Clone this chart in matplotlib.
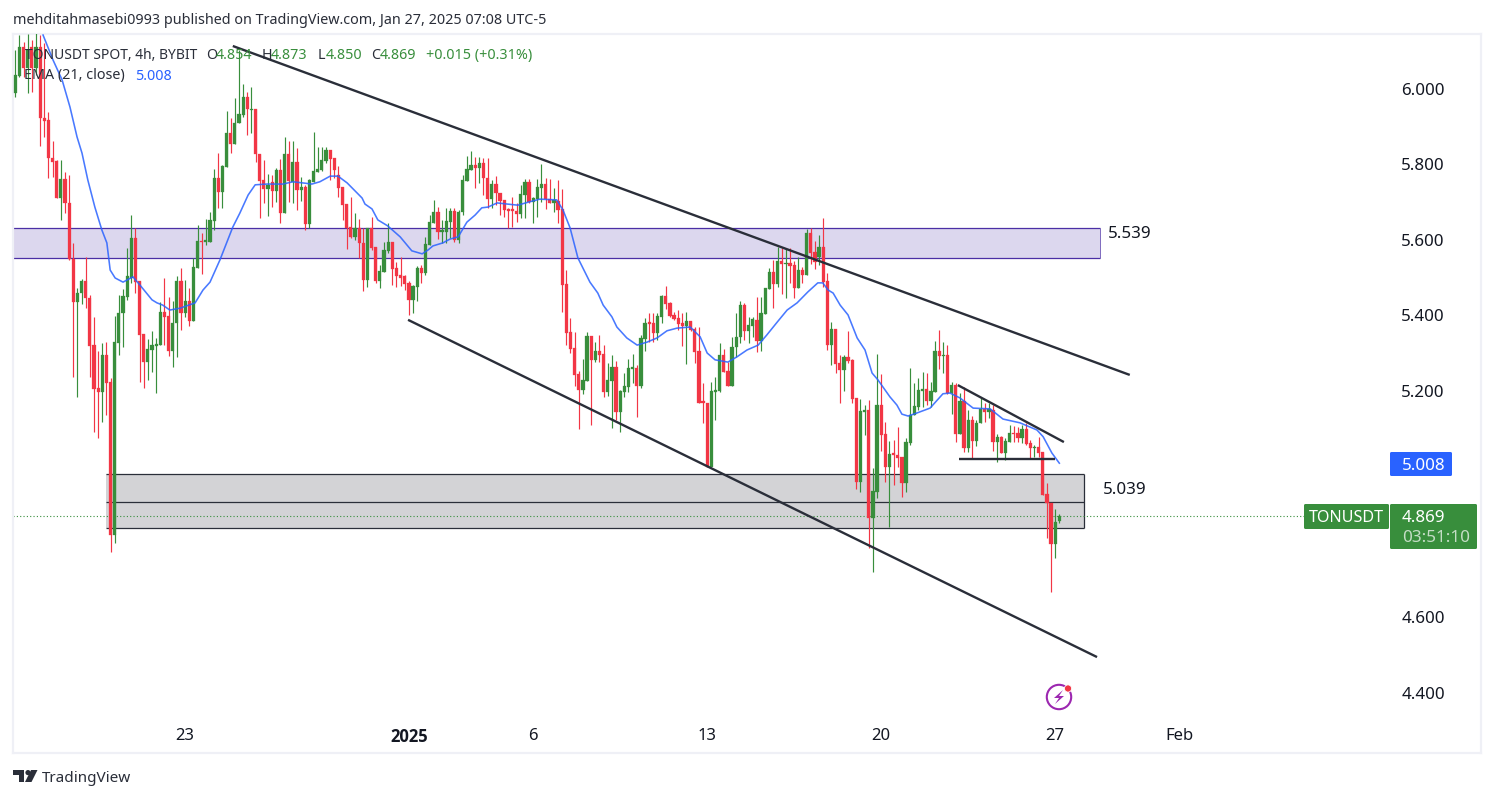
import numpy as np
import matplotlib
matplotlib.use("Agg")
import matplotlib.pyplot as plt
from matplotlib.patches import Rectangle, Circle, Polygon, FancyBboxPatch

plt.rcParams["font.family"] = ["Noto Sans", "DejaVu Sans"]

# 4h candles, one per bar index
opens = [
    5.989, 6.034, 6.111, 6.056, 6.111, 6.056, 6.111, 5.923, 5.918, 5.817,
    5.809, 5.711, 5.761, 5.698, 5.549, 5.435, 5.459, 5.491, 5.446, 5.321,
    5.207, 5.197, 5.295, 5.223, 4.818, 5.327, 5.406, 5.449, 5.499, 5.605,
    5.491, 5.351, 5.276, 5.308, 5.319, 5.321, 5.409, 5.398, 5.306, 5.380,
    5.491, 5.406, 5.438, 5.385, 5.526, 5.597, 5.594, 5.594, 5.650, 5.764,
    5.727, 5.793, 5.883, 5.854, 5.910, 5.931, 5.979, 5.944, 5.947, 5.828,
    5.759, 5.735, 5.754, 5.730, 5.785, 5.671, 5.828, 5.754, 5.807, 5.732,
    5.740, 5.642, 5.754, 5.780, 5.785, 5.809, 5.838, 5.817, 5.772, 5.740,
    5.695, 5.634, 5.608, 5.632, 5.592, 5.494, 5.632, 5.581, 5.491, 5.515,
    5.571, 5.594, 5.526, 5.507, 5.504, 5.486, 5.441, 5.475, 5.526, 5.512,
    5.587, 5.645, 5.674, 5.621, 5.621, 5.647, 5.677, 5.600, 5.674, 5.756,
    5.785, 5.799, 5.791, 5.804, 5.764, 5.708, 5.748, 5.724, 5.706, 5.682,
    5.682, 5.677, 5.669, 5.719, 5.754, 5.700, 5.708, 5.738, 5.748, 5.708,
    5.698, 5.703, 5.682, 5.483, 5.356, 5.313, 5.245, 5.202, 5.226, 5.345,
    5.282, 5.305, 5.298, 5.197, 5.226, 5.263, 5.144, 5.197, 5.210, 5.258,
    5.260, 5.213, 5.337, 5.380, 5.380, 5.353, 5.396, 5.451, 5.433, 5.401,
    5.393, 5.380, 5.372, 5.385, 5.364, 5.305, 5.170, 5.168, 4.998, 5.197,
    5.200, 5.295, 5.253, 5.213, 5.316, 5.343, 5.427, 5.359, 5.372, 5.388,
    5.332, 5.404, 5.470, 5.515, 5.483, 5.544, 5.536, 5.539, 5.534, 5.472,
    5.520, 5.507, 5.618, 5.568, 5.555, 5.581, 5.491, 5.321, 5.364, 5.274,
    5.255, 5.290, 5.282, 5.181, 4.958, 5.144, 5.149, 4.863, 4.932, 5.162,
    5.085, 4.998, 5.032, 5.030, 5.024, 4.956, 5.062, 5.136, 5.157, 5.200,
    5.205, 5.173, 5.197, 5.305, 5.292, 5.295, 5.194, 5.215, 5.085, 5.173,
    5.048, 5.123, 5.067, 5.115, 5.152, 5.144, 5.149, 5.064, 5.078, 5.035,
    5.064, 5.088, 5.088, 5.075, 5.099, 5.062, 5.048, 5.051, 5.038, 4.926,
    4.903, 4.794, 4.854,
]
highs = [
    6.103, 6.143, 6.125, 6.146, 6.130, 6.149, 6.143, 6.122, 5.939, 5.862,
    5.812, 5.812, 5.780, 5.772, 5.592, 5.472, 5.496, 5.555, 5.454, 5.396,
    5.305, 5.327, 5.329, 5.234, 5.398, 5.454, 5.470, 5.579, 5.666, 5.632,
    5.491, 5.351, 5.337, 5.359, 5.340, 5.435, 5.499, 5.449, 5.438, 5.504,
    5.526, 5.494, 5.472, 5.552, 5.640, 5.618, 5.655, 5.674, 5.788, 5.830,
    5.799, 5.942, 5.923, 5.976, 6.103, 6.013, 5.992, 6.005, 5.947, 5.828,
    5.812, 5.775, 5.772, 5.791, 5.815, 5.873, 5.862, 5.862, 5.844, 5.767,
    5.746, 5.761, 5.886, 5.846, 5.846, 5.846, 5.838, 5.817, 5.796, 5.740,
    5.695, 5.714, 5.671, 5.655, 5.632, 5.632, 5.661, 5.581, 5.534, 5.594,
    5.645, 5.594, 5.541, 5.555, 5.507, 5.491, 5.480, 5.531, 5.534, 5.608,
    5.666, 5.706, 5.687, 5.653, 5.685, 5.685, 5.685, 5.679, 5.772, 5.822,
    5.836, 5.820, 5.820, 5.817, 5.817, 5.759, 5.769, 5.724, 5.706, 5.685,
    5.714, 5.698, 5.746, 5.761, 5.761, 5.714, 5.761, 5.801, 5.764, 5.761,
    5.738, 5.759, 5.735, 5.520, 5.393, 5.356, 5.253, 5.284, 5.356, 5.345,
    5.329, 5.348, 5.321, 5.274, 5.295, 5.279, 5.202, 5.247, 5.284, 5.298,
    5.268, 5.348, 5.393, 5.406, 5.406, 5.406, 5.454, 5.478, 5.435, 5.409,
    5.414, 5.406, 5.409, 5.385, 5.369, 5.369, 5.221, 5.168, 5.223, 5.237,
    5.327, 5.311, 5.276, 5.343, 5.406, 5.438, 5.433, 5.396, 5.396, 5.449,
    5.449, 5.472, 5.526, 5.547, 5.581, 5.579, 5.579, 5.579, 5.544, 5.555,
    5.528, 5.629, 5.632, 5.597, 5.613, 5.658, 5.512, 5.382, 5.364, 5.295,
    5.295, 5.359, 5.284, 5.181, 5.178, 5.162, 5.176, 4.995, 5.297, 5.245,
    5.117, 5.067, 5.070, 5.104, 5.024, 5.075, 5.260, 5.221, 5.234, 5.250,
    5.247, 5.223, 5.332, 5.361, 5.329, 5.321, 5.223, 5.221, 5.194, 5.210,
    5.149, 5.133, 5.123, 5.184, 5.168, 5.168, 5.162, 5.085, 5.080, 5.075,
    5.109, 5.107, 5.104, 5.109, 5.115, 5.070, 5.056, 5.078, 5.038, 4.956,
    4.903, 4.887, 4.873,
]
lows = [
    5.979, 6.032, 6.032, 5.989, 5.992, 6.037, 5.849, 5.873, 5.764, 5.767,
    5.711, 5.653, 5.671, 5.547, 5.237, 5.184, 5.430, 5.419, 5.237, 5.091,
    5.075, 5.117, 5.136, 4.773, 4.796, 5.295, 5.316, 5.441, 5.486, 5.459,
    5.223, 5.207, 5.229, 5.250, 5.194, 5.321, 5.321, 5.292, 5.263, 5.290,
    5.361, 5.396, 5.372, 5.385, 5.526, 5.510, 5.587, 5.594, 5.626, 5.685,
    5.685, 5.793, 5.830, 5.854, 5.910, 5.926, 5.878, 5.883, 5.807, 5.658,
    5.698, 5.663, 5.687, 5.700, 5.645, 5.671, 5.700, 5.698, 5.679, 5.703,
    5.626, 5.632, 5.754, 5.780, 5.783, 5.804, 5.759, 5.764, 5.714, 5.653,
    5.576, 5.605, 5.600, 5.552, 5.465, 5.475, 5.573, 5.486, 5.472, 5.515,
    5.565, 5.480, 5.475, 5.478, 5.467, 5.401, 5.406, 5.438, 5.486, 5.507,
    5.587, 5.645, 5.602, 5.592, 5.592, 5.605, 5.594, 5.592, 5.666, 5.756,
    5.785, 5.738, 5.751, 5.719, 5.685, 5.685, 5.692, 5.666, 5.661, 5.632,
    5.634, 5.647, 5.658, 5.658, 5.698, 5.645, 5.661, 5.700, 5.682, 5.698,
    5.674, 5.645, 5.409, 5.321, 5.300, 5.213, 5.099, 5.192, 5.226, 5.109,
    5.276, 5.276, 5.184, 5.186, 5.101, 5.123, 5.091, 5.184, 5.197, 5.221,
    5.131, 5.207, 5.305, 5.329, 5.329, 5.335, 5.380, 5.417, 5.396, 5.388,
    5.361, 5.319, 5.271, 5.359, 5.274, 5.168, 5.115, 4.998, 4.998, 5.123,
    5.197, 5.250, 5.213, 5.213, 5.290, 5.327, 5.335, 5.327, 5.343, 5.303,
    5.305, 5.404, 5.470, 5.419, 5.475, 5.457, 5.446, 5.486, 5.446, 5.472,
    5.486, 5.507, 5.536, 5.523, 5.534, 5.475, 5.308, 5.268, 5.247, 5.168,
    5.200, 5.274, 5.168, 4.940, 4.932, 5.083, 4.783, 4.720, 4.916, 5.040,
    4.958, 4.839, 4.950, 4.998, 4.918, 4.932, 5.056, 5.136, 5.149, 5.157,
    5.162, 5.157, 5.197, 5.258, 5.247, 5.192, 5.138, 5.064, 5.085, 5.038,
    5.038, 5.019, 5.054, 5.115, 5.117, 5.128, 5.040, 5.011, 5.035, 5.017,
    5.064, 5.064, 5.064, 5.062, 5.056, 5.022, 5.025, 5.025, 4.924, 4.810,
    4.667, 4.757, 4.850,
]
closes = [
    6.037, 6.111, 6.056, 6.103, 6.056, 6.111, 5.923, 5.915, 5.817, 5.807,
    5.711, 5.761, 5.698, 5.549, 5.435, 5.459, 5.491, 5.446, 5.319, 5.205,
    5.197, 5.295, 5.221, 4.818, 5.329, 5.406, 5.451, 5.504, 5.605, 5.488,
    5.348, 5.276, 5.311, 5.321, 5.324, 5.409, 5.396, 5.306, 5.380, 5.491,
    5.406, 5.438, 5.385, 5.528, 5.597, 5.594, 5.600, 5.653, 5.764, 5.727,
    5.796, 5.883, 5.854, 5.910, 5.934, 5.979, 5.947, 5.947, 5.828, 5.756,
    5.735, 5.746, 5.730, 5.785, 5.671, 5.828, 5.756, 5.807, 5.732, 5.740,
    5.642, 5.759, 5.783, 5.788, 5.812, 5.838, 5.815, 5.785, 5.738, 5.692,
    5.632, 5.608, 5.632, 5.592, 5.494, 5.632, 5.579, 5.491, 5.518, 5.573,
    5.594, 5.523, 5.504, 5.499, 5.483, 5.441, 5.478, 5.526, 5.512, 5.589,
    5.647, 5.674, 5.621, 5.626, 5.650, 5.677, 5.600, 5.674, 5.759, 5.788,
    5.799, 5.791, 5.804, 5.764, 5.708, 5.748, 5.724, 5.703, 5.679, 5.677,
    5.677, 5.669, 5.722, 5.754, 5.700, 5.711, 5.740, 5.748, 5.708, 5.698,
    5.706, 5.679, 5.480, 5.353, 5.311, 5.242, 5.202, 5.229, 5.345, 5.282,
    5.305, 5.295, 5.197, 5.229, 5.263, 5.144, 5.200, 5.213, 5.260, 5.260,
    5.213, 5.340, 5.380, 5.377, 5.353, 5.398, 5.451, 5.430, 5.398, 5.390,
    5.377, 5.372, 5.385, 5.361, 5.303, 5.168, 5.168, 4.998, 5.200, 5.200,
    5.295, 5.250, 5.213, 5.316, 5.343, 5.427, 5.359, 5.374, 5.390, 5.332,
    5.406, 5.472, 5.515, 5.483, 5.544, 5.536, 5.539, 5.531, 5.472, 5.520,
    5.507, 5.618, 5.565, 5.541, 5.581, 5.488, 5.321, 5.364, 5.271, 5.255,
    5.290, 5.279, 5.178, 4.958, 5.146, 5.149, 4.863, 4.934, 5.162, 5.083,
    4.998, 5.032, 5.030, 5.022, 4.956, 5.064, 5.136, 5.160, 5.202, 5.205,
    5.173, 5.200, 5.305, 5.292, 5.295, 5.194, 5.215, 5.085, 5.173, 5.048,
    5.123, 5.067, 5.115, 5.152, 5.144, 5.152, 5.064, 5.078, 5.035, 5.067,
    5.088, 5.085, 5.075, 5.099, 5.059, 5.048, 5.051, 5.035, 4.924, 4.903,
    4.794, 4.852, 4.869,
]

# EMA(21)
ema_idx = [
    6.7, 9.1, 11.3, 13.2, 14.9, 16.1, 17.5, 19.2, 20.9, 22.1, 22.9, 24.1, 26.0, 28.4, 30.1,
    33.0, 34.2, 35.6, 37.3, 39.8, 43.4, 45.3, 47.0, 49.4, 52.5, 54.2, 56.2, 57.9, 60.8, 64.6,
    67.0, 69.4, 71.6, 73.5, 76.0, 77.9, 80.1, 83.7, 84.4, 86.1, 87.5, 89.9, 92.9, 95.7, 98.2,
    99.6, 100.8, 103.2, 104.9, 106.9, 109.0, 111.0, 112.6, 114.1, 116.3, 118.7, 121.3, 123.8, 126.6, 130.7,
    132.2, 133.9, 135.8, 138.7, 140.6, 141.9, 144.0, 145.2, 147.6, 150.1, 152.5, 154.9, 157.3, 159.7, 162.9,
    165.3, 167.0, 168.9, 172.0, 174.2, 176.6, 179.3, 181.4, 183.9, 186.3, 188.7, 191.3, 193.7, 194.9, 196.2,
    197.4, 199.1, 201.0, 203.2, 205.1, 206.8, 208.2, 211.1, 212.8, 214.0, 215.5, 217.6, 220.8, 223.9, 225.6,
    228.0, 231.2, 235.3, 238.4, 242.5, 246.6, 248.1, 250.2, 252.0,
]
ema_val = [
    6.143, 6.077, 6.024, 5.952, 5.873, 5.830, 5.759, 5.687, 5.626, 5.592, 5.520, 5.499, 5.488, 5.502, 5.480,
    5.441, 5.433, 5.427, 5.414, 5.419, 5.433, 5.467, 5.488, 5.547, 5.634, 5.671, 5.719, 5.746, 5.748, 5.748,
    5.754, 5.751, 5.748, 5.754, 5.769, 5.769, 5.751, 5.711, 5.695, 5.682, 5.653, 5.637, 5.608, 5.571, 5.563,
    5.573, 5.584, 5.592, 5.602, 5.608, 5.647, 5.666, 5.685, 5.687, 5.698, 5.695, 5.692, 5.700, 5.708, 5.706,
    5.679, 5.632, 5.552, 5.488, 5.459, 5.427, 5.396, 5.369, 5.340, 5.321, 5.329, 5.340, 5.359, 5.366, 5.369,
    5.343, 5.300, 5.282, 5.276, 5.290, 5.308, 5.321, 5.348, 5.382, 5.414, 5.433, 5.462, 5.486, 5.486, 5.467,
    5.459, 5.427, 5.401, 5.340, 5.308, 5.247, 5.229, 5.184, 5.162, 5.138, 5.133, 5.141, 5.154, 5.192, 5.194,
    5.181, 5.154, 5.152, 5.125, 5.115, 5.096, 5.078, 5.035, 5.008,
]

# drawn trend lines (bar index, price)
upper_x = [52.5, 269.0]
upper_y = [6.114, 5.242]
lower_x = [94.8, 261.1]
lower_y = [5.388, 4.494]
wedge_x = [227.5, 253.1]
wedge_y = [5.215, 5.064]
flat_x = [227.8, 251.0]
flat_y = [5.019, 5.019]

# zones
purple_x = [-0.6, 261.8]
purple_y = [5.552, 5.632]
grey_x = [21.9, 258.0]
grey_y = [4.835, 4.906, 4.978]

last_price = 4.869
price_ticks = [6.0, 5.8, 5.6, 5.4, 5.2, 4.6, 4.4]
date_ticks = [41, 95, 125, 167, 209, 251, 281]
date_labels = ["23", "2025", "6", "13", "20", "27", "Feb"]

GREEN = "#388e3c"
RED = "#f23645"
BLUE = "#2962ff"
DARK = "#2a2e39"
TEXT = "#131722"

W, H = 1494, 798
fig = plt.figure(figsize=(W / 100, H / 100), dpi=100, facecolor="white")

# price pane: 4.143 px per bar, 377.2 px per 1.0 of price
left, right, top, bottom = 12.5, 1481, 33.5, 753
ax = fig.add_axes([left / W, 1 - bottom / H, (right - left) / W, (bottom - top) / H])
ax.set_xlim((left - 15.3) / 4.143, (right - 15.3) / 4.143)
ax.set_ylim(6 - (bottom - 89) / 377.2, 6 - (top - 89) / 377.2)
for s in ax.spines.values():
    s.set_color("#eff0f6")
    s.set_linewidth(1.6)

# zones under the candles
ax.add_patch(Rectangle((purple_x[0], purple_y[0]), purple_x[1] - purple_x[0], purple_y[1] - purple_y[0],
                       facecolor="#dcd7ee", edgecolor="none", zorder=1))
ax.hlines(purple_y, purple_x[0], purple_x[1], color="#4b2fa5", lw=0.9, zorder=1.5)
ax.vlines(purple_x[1], purple_y[0], purple_y[1], color="#4b2fa5", lw=0.5, zorder=1.5)

ax.add_patch(Rectangle((grey_x[0], grey_y[0]), grey_x[1] - grey_x[0], grey_y[2] - grey_y[0],
                       facecolor="#d3d3d6", edgecolor="none", zorder=1))
ax.hlines(grey_y, grey_x[0], grey_x[1], color=DARK, lw=0.9, zorder=1.5)
ax.vlines(grey_x[1], grey_y[0], grey_y[2], color=DARK, lw=0.9, zorder=1.5)

# candles
idx = np.arange(len(closes))
o = np.array(opens)
c = np.array(closes)
colors = [GREEN if b >= a else RED for a, b in zip(o, c)]
ax.vlines(idx, lows, highs, color=colors, lw=0.85, zorder=3)
ax.bar(idx, np.maximum(np.abs(c - o), 0.004), bottom=np.minimum(o, c), width=0.78,
       color=colors, edgecolor=colors, linewidth=0.2, zorder=3)

ax.plot(ema_idx, ema_val, color=BLUE, lw=1.15, alpha=0.85, zorder=4)

for xs, ys in [(upper_x, upper_y), (lower_x, lower_y), (wedge_x, wedge_y), (flat_x, flat_y)]:
    ax.plot(xs, ys, color=DARK, lw=1.7, zorder=5, solid_capstyle="butt")

ax.hlines(last_price, ax.get_xlim()[0], (1304 - 15.3) / 4.143, color=GREEN, lw=0.8,
          linestyles=(0, (1, 2)), zorder=2.5)

# axis labels sit inside the pane, as on the chart
ax.yaxis.tick_right()
ax.set_yticks(price_ticks)
ax.set_yticklabels([f"{p:.3f}" for p in price_ticks], fontsize=12.2, color=TEXT)
ax.tick_params(axis="y", length=0, pad=-57.5)
for lab in ax.get_yticklabels():
    lab.set_horizontalalignment("left")
ax.set_xticks(date_ticks)
ax.set_xticklabels(date_labels, fontsize=12, color=TEXT)
year_label = ax.get_xticklabels()[1]
year_label.set_fontfamily(["Open Sans", "DejaVu Sans"])
year_label.set_fontweight("bold")
ax.tick_params(axis="x", length=0, pad=-18)

# overlay in pixel space for the header, legend, tags and logo
ov = fig.add_axes([0, 0, 1, 1], zorder=10)
ov.set_xlim(0, W)
ov.set_ylim(H, 0)
ov.axis("off")
ov.patch.set_alpha(0)


def put(x, y, s, size=10.5, color=TEXT, **kw):
    kw.setdefault("va", "center")
    ov.text(x, y, s, fontsize=size, color=color, **kw)


put(13, 20.5, "mehditahmasebi0993 published on TradingView.com, Jan 27, 2025 07:08 UTC-5", 10.35, "#2a2e39")

put(25, 55.5, "TONUSDT SPOT, 4h, BYBIT", 10, "#2a2e39")
legend_parts = [(206, "O", "#2a2e39"), (216, "4.854", GREEN), (262, "H", "#2a2e39"), (271, "4.873", GREEN),
                (318, "L", "#2a2e39"), (326, "4.850", GREEN), (371, "C", "#2a2e39"), (380, "4.869", GREEN),
                (426, "+0.015 (+0.31%)", GREEN)]
for x, s, col in legend_parts:
    put(x, 55.5, s, 10.3, col)
put(24, 76, "EMA (21, close)", 10.3, "#2a2e39")
put(135, 76, "5.008", 10.3, BLUE)

put(1108, 233.5, "5.539", 12.2, "#131722")
put(1103, 489.5, "5.039", 12.2, "#131722")

# last value tags
ov.add_patch(FancyBboxPatch((1390, 452), 62, 24, boxstyle="round,pad=0,rounding_size=1.5", fc=BLUE, ec="none"))
put(1402, 465.5, "5.008", 12.2, "white", fontweight="medium")
ov.add_patch(FancyBboxPatch((1304, 504), 85, 25, boxstyle="round,pad=0,rounding_size=1.5", fc=GREEN, ec="none"))
put(1346.5, 517.5, "TONUSDT", 11.6, "white", ha="center", fontweight="medium")
ov.add_patch(FancyBboxPatch((1390, 504), 87, 45, boxstyle="round,pad=0,rounding_size=1.5", fc=GREEN, ec="none"))
put(1402, 518, "4.869", 12.2, "white", fontweight="medium")
put(1402, 537.5, "03:51:10", 12.3, "#c4ddc5", fontweight="medium")

# lightning icon
ov.add_patch(Circle((1059, 697), 12.2, fc="none", ec="#9c27b0", lw=1.5))
ov.add_patch(Polygon([[1063, 690], [1054, 698], [1059, 698], [1055, 704], [1064, 696], [1059, 696]],
                     closed=True, fc="#9c27b0", ec="none"))
ov.add_patch(Circle((1068, 688.5), 3.6, fc=RED, ec="white", lw=0.6))

# TradingView logo
ov.add_patch(Polygon([[13, 770], [24, 770], [24, 782], [18.5, 782], [18.5, 775], [13, 775]],
                     closed=True, fc=DARK, ec="none"))
ov.add_patch(Circle((28, 772.6), 2.6, fc=DARK, ec="none"))
ov.add_patch(Polygon([[31, 770], [37.5, 770], [31.5, 782], [25, 782]], closed=True, fc=DARK, ec="none"))
put(42, 778, "TradingView", 11, "#2a2e39")

fig.savefig("out.png", dpi=100, facecolor="white")
plt.close(fig)
